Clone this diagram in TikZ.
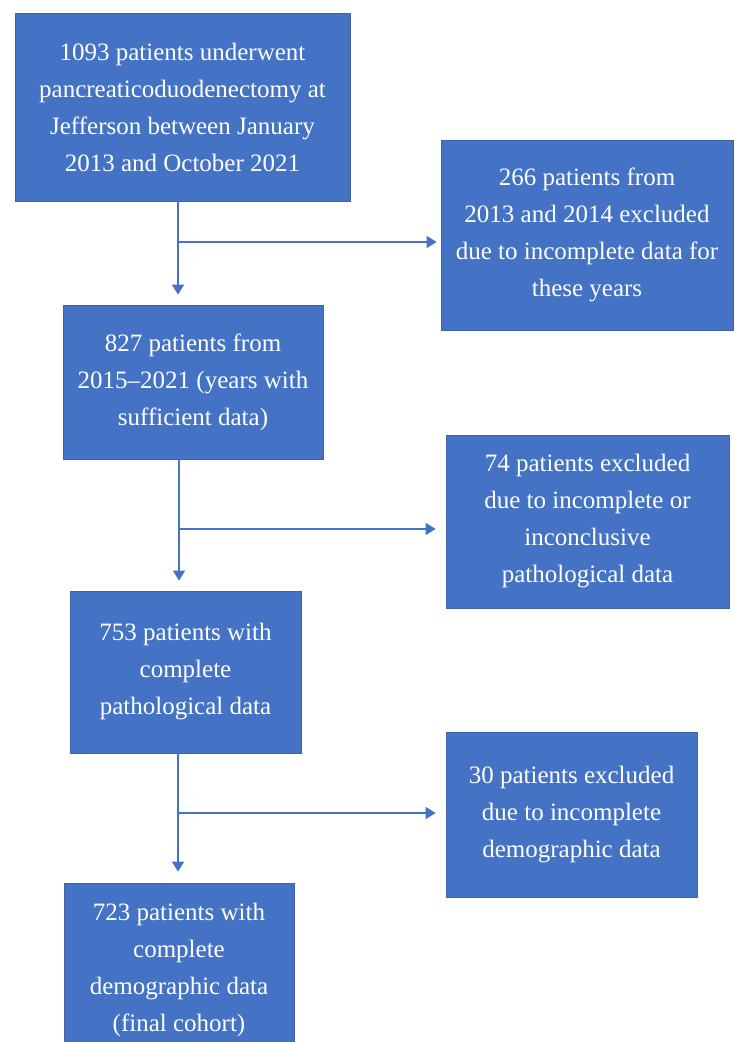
\documentclass[tikz,border=0pt]{standalone}
\usepackage{fontspec}
\setmainfont{Liberation Serif}
\usetikzlibrary{arrows.meta}
\definecolor{boxblue}{RGB}{68,114,196}
\definecolor{boxline}{RGB}{64,100,170}
\begin{document}
\begin{tikzpicture}[x=0.5pt,y=-0.5pt]
      \tikzstyle{stage}=[draw=boxline,line width=0.4pt,fill=boxblue,text=white,align=center,inner sep=0pt,font=\fontsize{12.5}{18.5}\selectfont]
      \tikzstyle{edge}=[draw=boxblue,line width=0.8pt,-{Triangle[width=6pt,length=5pt]}]
      \useasboundingbox (0,0) rectangle (734,1042);
      \clip (0,0) rectangle (734,1042);
      \node[stage,minimum width=167.5pt,minimum height=94pt] (A) at (182.5,107) {1093 patients underwent\\pancreaticoduodenectomy at\\Jefferson between January\\2013 and October 2021};
      \node[stage,minimum width=146pt,minimum height=95pt] (B) at (587,235) {266 patients from\\2013 and 2014 excluded\\due to incomplete data for\\these years};
      \node[stage,minimum width=130pt,minimum height=77pt] (C) at (193,382) {827 patients from\\2015--2021 (years with\\sufficient data)};
      \node[stage,minimum width=141.5pt,minimum height=86.5pt] (D) at (587.5,521.5) {74 patients excluded\\due to incomplete or\\inconclusive\\pathological data};
      \node[stage,minimum width=115.5pt,minimum height=81pt] (E) at (185.5,672) {753 patients with\\complete\\pathological data};
      \node[stage,minimum width=125.5pt,minimum height=82.5pt] (F) at (571.5,814.5) {30 patients excluded\\due to incomplete\\demographic data};
      \node[stage,minimum width=115pt,minimum height=87pt] (G) at (179,970) {723 patients with\\complete\\demographic data\\(final cohort)};
      \coordinate (t1) at (178,242);
      \coordinate (t2) at (179,529);
      \coordinate (t3) at (178,813);
      \path[edge,shorten >=5pt] (A.south -| t1) -- (t1 |- C.north);
      \path[edge,shorten >=2pt] (t1) -- (t1 -| B.west);
      \path[edge,shorten >=5pt] (C.south -| t2) -- (t2 |- E.north);
      \path[edge,shorten >=5pt] (t2) -- (t2 -| D.west);
      \path[edge,shorten >=5.5pt] (E.south -| t3) -- (t3 |- G.north);
      \path[edge,shorten >=5pt] (t3) -- (t3 -| F.west);
\end{tikzpicture}
\end{document}
